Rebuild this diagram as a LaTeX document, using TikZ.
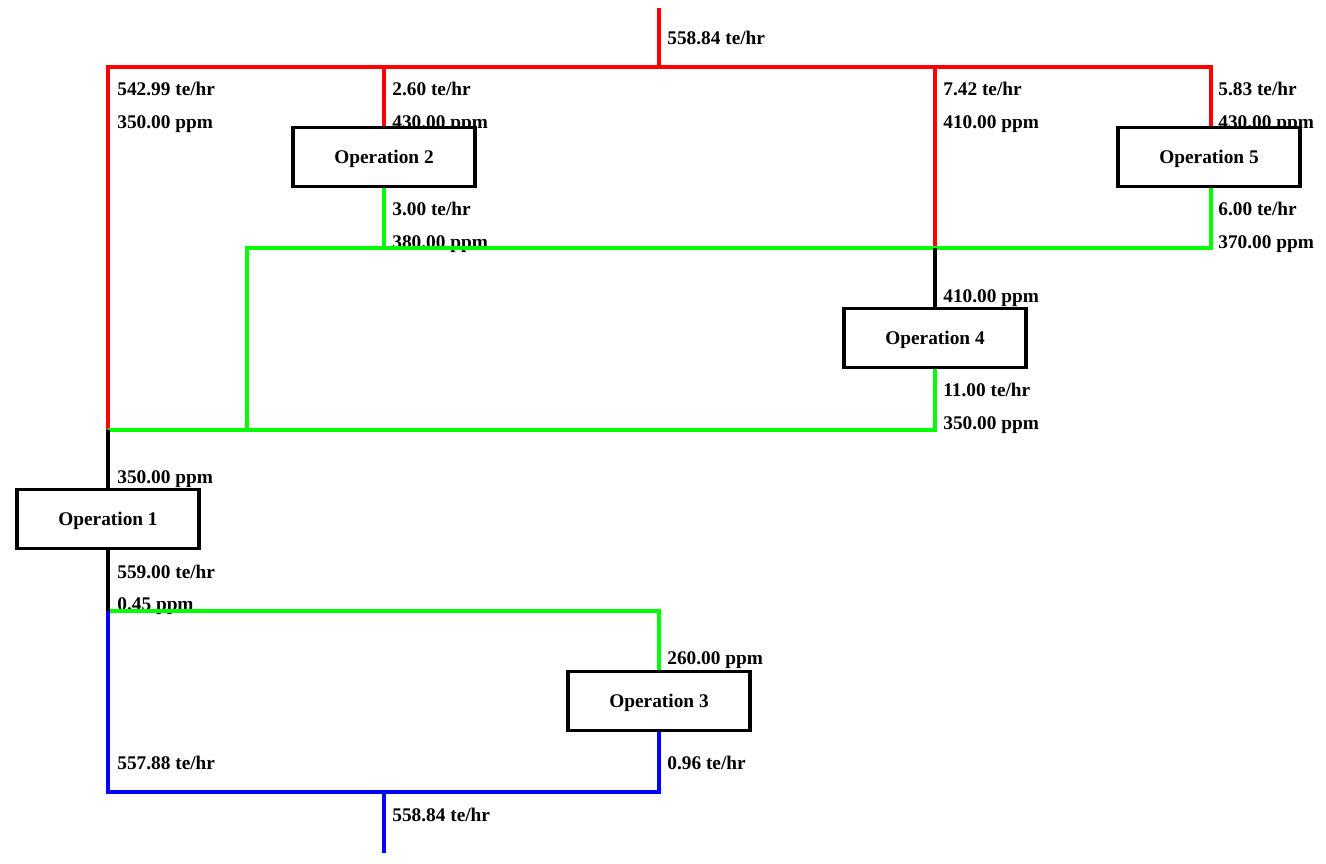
\documentclass[tikz,border=0pt]{standalone}
\usepackage{fontspec}
\setmainfont{Liberation Serif}
\usepackage{tikz}
\usetikzlibrary{positioning, calc}
\definecolor{redline}{HTML}{FF0000}
\definecolor{greenline}{HTML}{00FF00}
\definecolor{blueline}{HTML}{0000FF}

\begin{document}
\begin{tikzpicture}[
  x=0.02cm, y=-0.02cm,
  op/.style={
    rectangle, draw=black, fill=white, line width=2.1pt,
    minimum width=3.64cm, minimum height=1.18cm,
    font=\fontsize{11}{13}\selectfont\bfseries, inner sep=0pt, text depth=0pt,
  },
  lbl/.style={anchor=base west, inner sep=0pt, font=\fontsize{11}{13}\selectfont\bfseries},
  pipe/.style={line width=1.8pt},
]
  \useasboundingbox (0,0) rectangle (1326,864);

  % Junctions
  \coordinate (src) at (659,8);
  \coordinate (top) at (659,67);
  \coordinate (tl) at (108,67);
  \coordinate (tr) at (1211,67);
  \coordinate (t2) at (384,67);
  \coordinate (t4) at (935,67);
  \coordinate (m4) at (935,248);
  \coordinate (gl) at (247,248);
  \coordinate (g2) at (384,248);
  \coordinate (gr) at (1211,248);
  \coordinate (ml) at (108,430);
  \coordinate (gl2) at (247,430);
  \coordinate (g4) at (935,430);
  \coordinate (b1) at (108,611);
  \coordinate (g3) at (659,611);
  \coordinate (bl) at (108,792);
  \coordinate (b3) at (659,792);
  \coordinate (bm) at (384,792);
  \coordinate (sink) at (384,853);

  % Labels
  \node[lbl] (l1) at (667,45) {558.84 te/hr};
  \node[lbl] (l2) at (117,96) {542.99 te/hr};
  \node[lbl] (l3) at (117,129) {350.00 ppm};
  \node[lbl] (l4) at (392,96) {2.60 te/hr};
  \node[lbl] (l5) at (392,129) {430.00 ppm};
  \node[lbl] (l6) at (943,96) {7.42 te/hr};
  \node[lbl] (l7) at (943,129) {410.00 ppm};
  \node[lbl] (l8) at (1218,96) {5.83 te/hr};
  \node[lbl] (l9) at (1218,129) {430.00 ppm};
  \node[lbl] (l10) at (392,216) {3.00 te/hr};
  \node[lbl] (l11) at (392,249) {380.00 ppm};
  \node[lbl] (l12) at (1218,216) {6.00 te/hr};
  \node[lbl] (l13) at (1218,249) {370.00 ppm};
  \node[lbl] (l14) at (943,303) {410.00 ppm};
  \node[lbl] (l15) at (943,397) {11.00 te/hr};
  \node[lbl] (l16) at (943,430) {350.00 ppm};
  \node[lbl] (l17) at (117,484) {350.00 ppm};
  \node[lbl] (l18) at (117,579) {559.00 te/hr};
  \node[lbl] (l19) at (117,611) {0.45 ppm};
  \node[lbl] (l20) at (667,665) {260.00 ppm};
  \node[lbl] (l21) at (117,769) {557.88 te/hr};
  \node[lbl] (l22) at (667,769) {0.96 te/hr};
  \node[lbl] (l23) at (392,821) {558.84 te/hr};

  % Operations
  \path (108,519) node[op] (op1) {Operation 1};
  \path (384,157) node[op] (op2) {Operation 2};
  \path (659,701) node[op] (op3) {Operation 3};
  \path (935,338) node[op] (op4) {Operation 4};
  \path (1209,157) node[op] (op5) {Operation 5};

  % Fresh water
  \draw[pipe, redline] (src) -- (top);
  \draw[pipe, redline] (ml) -- (tl) -- (tr) -- (tr |- op5.north);
  \draw[pipe, redline] (t2) -- (op2.north);
  \draw[pipe, redline] (t4) -- (m4);

  % Reuse
  \draw[pipe, greenline] (op2.south) -- (g2);
  \draw[pipe, greenline] (gl2) -- (gl) -- (gr) -- (gr |- op5.south);
  \draw[pipe, greenline] (op4.south) -- (g4) -- (ml);
  \draw[pipe, greenline] (b1) -- (g3) -- (op3.north);

  % Mixed inlets
  \draw[pipe, black] (m4) -- (op4.north);
  \draw[pipe, black] (ml) -- (op1.north);
  \draw[pipe, black] (op1.south) -- (b1);

  % Effluent
  \draw[pipe, blueline] (b1) -- (bl) -- (b3) -- (op3.south);
  \draw[pipe, blueline] (bm) -- (sink);
\end{tikzpicture}
\end{document}
